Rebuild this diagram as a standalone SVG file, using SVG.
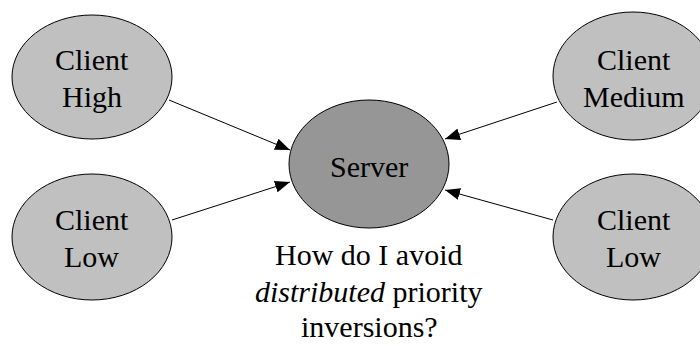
<svg xmlns="http://www.w3.org/2000/svg" width="700" height="346" viewBox="0 0 700 346">
<defs>
<marker id="ah" markerWidth="16" markerHeight="12" refX="15" refY="6" orient="auto" markerUnits="userSpaceOnUse">
<path d="M0,0 L15,6 L0,12 Z" fill="#000"/>
</marker>
</defs>
<rect width="700" height="346" fill="#fff"/>
<g id="connectors" stroke="#000" stroke-width="1" fill="none" marker-end="url(#ah)">
<line x1="169" y1="100" x2="290" y2="150"/>
<line x1="172" y1="220" x2="290" y2="182"/>
<line x1="557" y1="102" x2="445" y2="139"/>
<line x1="553" y1="220" x2="445" y2="190"/>
</g>
<g id="client-high">
<ellipse cx="92" cy="77" rx="80" ry="62" fill="#c0c0c0" stroke="#000"/>
<text x="55" y="70" font-family="Liberation Serif" font-size="30">Client</text>
<text x="62" y="107" font-family="Liberation Serif" font-size="30">High</text>
</g>
<g id="client-low-left">
<ellipse cx="92" cy="237" rx="80" ry="63" fill="#c0c0c0" stroke="#000"/>
<text x="55" y="230" font-family="Liberation Serif" font-size="30">Client</text>
<text x="64" y="267" font-family="Liberation Serif" font-size="30">Low</text>
</g>
<g id="server">
<ellipse cx="369" cy="164" rx="80" ry="64" fill="#969696" stroke="#000"/>
<text x="330" y="177" font-family="Liberation Serif" font-size="30">Server</text>
</g>
<g id="client-medium">
<ellipse cx="633" cy="76" rx="80" ry="64" fill="#c0c0c0" stroke="#000"/>
<text x="597" y="70" font-family="Liberation Serif" font-size="30">Client</text>
<text x="583" y="107" font-family="Liberation Serif" font-size="30">Medium</text>
</g>
<g id="client-low-right">
<ellipse cx="633" cy="237" rx="80" ry="63" fill="#c0c0c0" stroke="#000"/>
<text x="597" y="230" font-family="Liberation Serif" font-size="30">Client</text>
<text x="606" y="267" font-family="Liberation Serif" font-size="30">Low</text>
</g>
<g id="caption">
<text x="275" y="265" font-family="Liberation Serif" font-size="30">How do I avoid</text>
<text x="255" y="302" font-family="Liberation Serif" font-size="30"><tspan font-style="italic">distributed</tspan> priority</text>
<text x="301" y="337" font-family="Liberation Serif" font-size="30">inversions?</text>
</g>
</svg>
